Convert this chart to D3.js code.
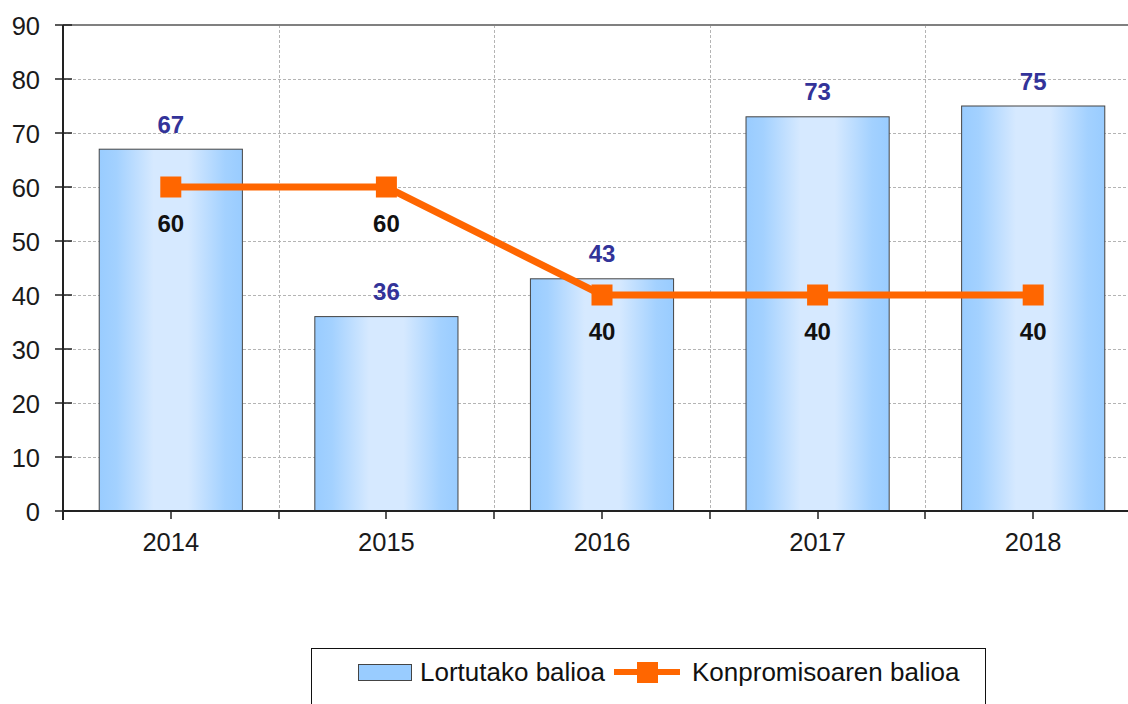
<!DOCTYPE html>
<html>
<body style="margin: 0; background: #fff">
  <script src="https://d3js.org/d3.v7.min.js"></script>

  <script>
    const YEARS = ["2014", "2015", "2016", "2017", "2018"];
    const ACHIEVED = [67, 36, 43, 73, 75];
    const COMMITTED = [60, 60, 40, 40, 40];
    const Y_TICKS = [0, 10, 20, 30, 40, 50, 60, 70, 80, 90];
    const LEGEND = ["Lortutako balioa", "Konpromisoaren balioa"];

    const FONT = "Liberation Sans, Arial, sans-serif";
    const ORANGE = "#ff6600";

    const start = () => {
      const width = 1128;
      const height = 704;

      const svg = d3.select("body").append("svg")
        .attr("width", width)
        .attr("height", height)
        .style("font-family", FONT);

      const defs = svg.append("defs");
      const grad = defs.append("linearGradient")
        .attr("id", "barGrad")
        .attr("x1", "0%").attr("x2", "100%")
        .attr("y1", "0%").attr("y2", "0%");
      [[0, "#99ccff"], [0.12, "#a3d1ff"], [0.38, "#d6e9ff"], [0.62, "#d6e9ff"], [0.88, "#a3d1ff"], [1, "#99ccff"]]
        .forEach(([o, c]) => grad.append("stop").attr("offset", o).attr("stop-color", c));

      const left = 63, top = 25, bottom = 511, right = 1141;

      const x = d3.scaleBand()
        .domain(YEARS)
        .range([left, right])
        .paddingInner(0.336)
        .paddingOuter(0.168);

      const y = d3.scaleLinear()
        .domain([0, 90])
        .range([bottom, top]);

      // horizontal grid
      svg.append("g")
        .selectAll("line")
        .data(Y_TICKS.filter((d) => d > 0 && d < 90))
        .enter()
        .append("line")
        .attr("x1", left).attr("x2", right)
        .attr("y1", (d) => y(d) + 0.5).attr("y2", (d) => y(d) + 0.5)
        .style("stroke", "#b4b4b4")
        .style("stroke-dasharray", "3,2");

      // vertical grid at band boundaries
      const step = x.step();
      const bounds = YEARS.slice(1).map((d, i) => left + step * (i + 1));
      svg.append("g")
        .selectAll("line")
        .data(bounds)
        .enter()
        .append("line")
        .attr("x1", (d) => Math.round(d) + 0.5).attr("x2", (d) => Math.round(d) + 0.5)
        .attr("y1", top).attr("y2", bottom)
        .style("stroke", "#b4b4b4")
        .style("stroke-dasharray", "3,2");

      // top border
      svg.append("line")
        .attr("x1", left).attr("x2", right)
        .attr("y1", top).attr("y2", top)
        .style("stroke", "#808080")
        .style("stroke-width", 2);

      // bars
      svg.append("g")
        .selectAll("rect")
        .data(ACHIEVED)
        .enter()
        .append("rect")
        .attr("x", (d, i) => x(YEARS[i]))
        .attr("y", (d) => y(d))
        .attr("width", x.bandwidth())
        .attr("height", (d) => bottom - y(d))
        .style("fill", "url(#barGrad)")
        .style("stroke", "#444")
        .style("stroke-width", 1);

      // bar labels
      svg.append("g")
        .selectAll("text")
        .data(ACHIEVED)
        .enter()
        .append("text")
        .attr("x", (d, i) => x(YEARS[i]) + x.bandwidth() / 2)
        .attr("y", (d) => y(d) - 16.5)
        .attr("text-anchor", "middle")
        .style("font-size", "24px")
        .style("font-weight", "bold")
        .style("fill", "#333399")
        .text((d) => d);

      // axes
      const cx = (i) => x(YEARS[i]) + x.bandwidth() / 2;

      svg.append("line")
        .attr("x1", left).attr("x2", right)
        .attr("y1", bottom).attr("y2", bottom)
        .style("stroke", "#222")
        .style("stroke-width", 2);

      svg.append("line")
        .attr("x1", left).attr("x2", left)
        .attr("y1", top).attr("y2", bottom + 9)
        .style("stroke", "#222")
        .style("stroke-width", 2);

      const xTicks = YEARS.map((d, i) => cx(i)).concat(bounds);
      svg.append("g")
        .selectAll("line")
        .data(xTicks)
        .enter()
        .append("line")
        .attr("x1", (d) => Math.round(d)).attr("x2", (d) => Math.round(d))
        .attr("y1", bottom).attr("y2", bottom + 8)
        .style("stroke", "#222")
        .style("stroke-width", 1.5);

      svg.append("g")
        .selectAll("text")
        .data(YEARS)
        .enter()
        .append("text")
        .attr("x", (d, i) => cx(i))
        .attr("y", 551)
        .attr("text-anchor", "middle")
        .style("font-size", "25.5px")
        .style("fill", "#1a1a1a")
        .text((d) => d);

      const yAxis = svg.append("g");
      yAxis.selectAll("line")
        .data(Y_TICKS)
        .enter()
        .append("line")
        .attr("x1", left - 8).attr("x2", left + 9)
        .attr("y1", (d) => y(d)).attr("y2", (d) => y(d))
        .style("stroke", "#222")
        .style("stroke-width", 1.5);
      yAxis.selectAll("text")
        .data(Y_TICKS)
        .enter()
        .append("text")
        .attr("x", 40)
        .attr("y", (d) => y(d) + 9.5)
        .attr("text-anchor", "end")
        .style("font-size", "25.5px")
        .style("fill", "#1a1a1a")
        .text((d) => d);

      // commitment line
      const line = d3.line()
        .x((d, i) => cx(i))
        .y((d) => y(d));

      svg.append("path")
        .datum(COMMITTED)
        .attr("d", line)
        .style("fill", "none")
        .style("stroke", ORANGE)
        .style("stroke-width", 7);

      svg.append("g")
        .selectAll("rect")
        .data(COMMITTED)
        .enter()
        .append("rect")
        .attr("x", (d, i) => cx(i) - 10.5)
        .attr("y", (d) => y(d) - 10.5)
        .attr("width", 21)
        .attr("height", 21)
        .style("fill", ORANGE);

      svg.append("g")
        .selectAll("text")
        .data(COMMITTED)
        .enter()
        .append("text")
        .attr("x", (d, i) => cx(i))
        .attr("y", (d) => y(d) + 44.5)
        .attr("text-anchor", "middle")
        .style("font-size", "24px")
        .style("font-weight", "bold")
        .style("fill", "#111")
        .text((d) => d);

      // legend
      const lg = svg.append("g");
      lg.append("rect")
        .attr("x", 311.5).attr("y", 648.5)
        .attr("width", 674).attr("height", 70)
        .style("fill", "#fff")
        .style("stroke", "#111")
        .style("stroke-width", 1);

      lg.append("rect")
        .attr("x", 358.5).attr("y", 664.5)
        .attr("width", 53).attr("height", 16)
        .style("fill", "#99ccff")
        .style("stroke", "#444")
        .style("stroke-width", 1);

      lg.append("text")
        .attr("x", 420).attr("y", 681)
        .style("font-size", "26px")
        .style("fill", "#111")
        .text(LEGEND[0]);

      lg.append("line")
        .attr("x1", 614).attr("x2", 680)
        .attr("y1", 672).attr("y2", 672)
        .style("stroke", ORANGE)
        .style("stroke-width", 6);
      lg.append("rect")
        .attr("x", 637).attr("y", 662)
        .attr("width", 21).attr("height", 21)
        .style("fill", ORANGE);

      lg.append("text")
        .attr("x", 692).attr("y", 681)
        .style("font-size", "26px")
        .style("fill", "#111")
        .text(LEGEND[1]);
    };

    document.addEventListener("DOMContentLoaded", () => {
      start();
    }, false);
  </script>
</body>
</html>
